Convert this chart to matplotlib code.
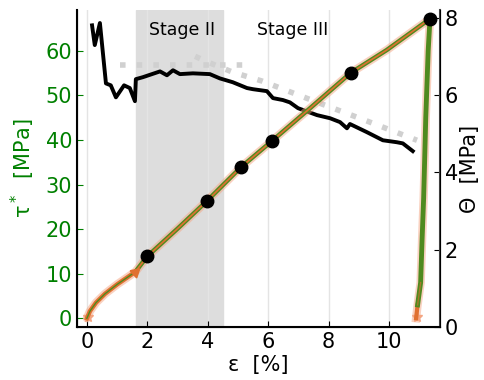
import numpy as np
import matplotlib
matplotlib.use("Agg")
import matplotlib.pyplot as plt

# tau* vs strain (left axis)
eps_tau = [0.0, 0.1, 0.3, 0.6, 1.0, 1.6, 2.0, 3.0, 3.97, 5.1, 6.13, 7.28, 8.74, 9.93, 11.36]
tau = [0.0, 1.6, 3.5, 5.5, 7.6, 10.4, 13.9, 20.1, 26.3, 33.9, 39.8, 46.5, 55.1, 60.2, 67.2]
eps_dots = [1.99, 3.97, 5.1, 6.13, 8.74, 11.36]
tau_dots = [13.9, 26.3, 33.9, 39.8, 55.1, 67.2]

# unloading branch (left axis)
eps_unl = [10.9, 10.95, 11.05, 11.1, 11.15, 11.22, 11.3, 11.36]
tau_unl = [0.0, 3.0, 8.0, 18.0, 27.0, 45.0, 60.0, 67.2]

# Theta vs strain (right axis)
eps_th = [0.17, 0.26, 0.43, 0.63, 0.79, 0.96, 1.23, 1.42, 1.59, 1.62, 1.85, 2.42, 2.65,
          2.85, 3.08, 3.51, 4.07, 4.40, 4.83, 5.30, 5.50, 5.96, 6.16, 6.49, 6.72, 6.99,
          7.62, 8.05, 8.38, 8.61, 8.71, 9.27, 9.80, 10.26, 10.46, 10.79]
theta = [7.80, 7.29, 7.86, 6.30, 6.25, 5.94, 6.25, 6.18, 5.84, 6.41, 6.46, 6.61, 6.51,
         6.64, 6.54, 6.56, 6.54, 6.43, 6.33, 6.18, 6.15, 6.10, 5.92, 5.87, 5.81, 5.66,
         5.48, 5.40, 5.30, 5.14, 5.25, 5.04, 4.83, 4.78, 4.75, 4.55]

# dotted reference lines (right axis)
eps_ref1 = [1.09, 5.23]
th_ref1 = [6.77, 6.77]
eps_ref2 = [3.58, 4.0, 4.83, 5.8, 7.5, 9.3, 10.93]
th_ref2 = [7.0, 6.85, 6.59, 6.36, 5.85, 5.32, 4.83]

stage2 = (1.62, 4.5)
xticks = [0, 2, 4, 6, 8, 10]

green = "#4f8a1f"
orange = "#e07030"
salmon = "#f4a582"

fig = plt.figure(figsize=(4.84, 3.8), dpi=100)
ax = fig.add_axes([0.159, 0.139, 0.75, 0.835])
ax2 = ax.twinx()

# background things on the Theta axis (drawn first)
ax2.axvspan(*stage2, color="#dddddd", zorder=0)
for xt in xticks:
    ax2.axvline(xt, color="#e4e4e4", lw=1, zorder=0.5)
ax2.text(3.15, 7.68, "Stage II", fontsize=12.5, ha="center", va="center")
ax2.text(6.8, 7.68, "Stage III", fontsize=12.5, ha="center", va="center")
ax2.plot(eps_ref1, th_ref1, color="#d0d0d0", lw=4, ls=(0, (1, 2)), zorder=1)
ax2.plot(eps_ref2, th_ref2, color="#d0d0d0", lw=4, ls=(0, (1, 2)), zorder=1)
ax2.plot(eps_th, theta, color="black", lw=2.8, zorder=5)

e = np.array(eps_tau)
t = np.array(tau)
k = 6  # index splitting early (orange) and later (green) segment
ax.plot(e, t, color=salmon, lw=6, alpha=0.5, solid_capstyle="round", zorder=2)
ax.plot(e[:k], t[:k], color=orange, lw=3.2, zorder=3)
ax.plot(e[:k], t[:k], color=green, lw=1.0, zorder=3)
ax.plot(e[k - 1:], t[k - 1:], color=green, lw=3.2, zorder=3)
ax.plot(e[k - 1:], t[k - 1:], color=orange, lw=1.2, zorder=3)
ax.plot([1.6], [10.4], marker=(3, 0, -48), color=orange, ms=8, zorder=4)
ax.plot([0.02, 10.92], [0.2, 0.2], ls="none", marker="*", color=salmon, ms=7, zorder=2)

ax.plot(eps_unl, tau_unl, color=salmon, lw=6, alpha=0.5, zorder=2)
ax.plot(eps_unl[:2], tau_unl[:2], color=orange, lw=3.0, zorder=3)
ax.plot(eps_unl[1:], tau_unl[1:], color=green, lw=3.5, zorder=3)
ax.plot(eps_unl[1:3], tau_unl[1:3], color=orange, lw=1.0, alpha=0.6, zorder=3)

ax.plot(eps_dots, tau_dots, "o", color="black", ms=9, zorder=6)

ax.set_xlim(-0.33, 11.69)
ax.set_ylim(-2.0, 69.2)
ax2.set_ylim(0, 8.2)
ax.set_xticks(xticks)
ax.set_yticks([0, 10, 20, 30, 40, 50, 60])
ax2.set_yticks([0, 2, 4, 6, 8])

ax.tick_params(axis="x", direction="in", labelsize=15, length=4)
ax.tick_params(axis="y", direction="in", labelsize=15, length=4, colors="green",
               labelcolor="green")
ax2.tick_params(axis="y", direction="in", labelsize=15, length=4)

for a in (ax, ax2):
    a.spines["top"].set_visible(False)
ax.spines["left"].set_linewidth(1.5)
ax.spines["bottom"].set_linewidth(1.5)
ax2.spines["right"].set_color("#444444")
ax2.spines["right"].set_linewidth(1.5)

ax.set_xlabel("ε  [%]", fontsize=15, labelpad=2)
ax.set_ylabel("τ$^*$  [MPa]", fontsize=15, color="green", labelpad=6)
ax2.set_ylabel("Θ  [MPa]", fontsize=15, labelpad=1)

# tau curves on top of the Theta axis contents
ax.set_zorder(ax2.get_zorder() + 1)
ax.patch.set_visible(False)

fig.savefig("out.png", dpi=100)
